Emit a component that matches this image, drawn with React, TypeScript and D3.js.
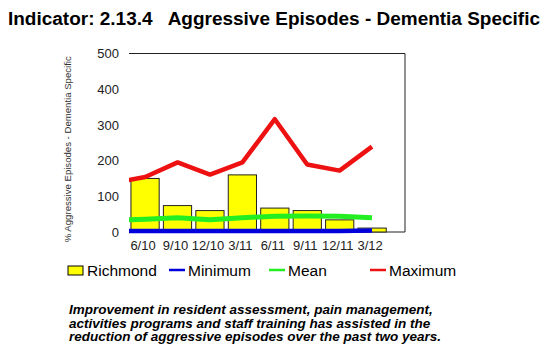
import React from "react";
import * as d3 from "d3";

const categories = ["6/10", "9/10", "12/10", "3/11", "6/11", "9/11", "12/11", "3/12"];
const richmond = [150, 74, 60, 160, 67, 60, 34, 11];
// line series: first value belongs to the preceding quarter (3/10), shown clipped at the plot edge
const lineCats = ["3/10", ...categories];
const minimum = [3, 3, 3, 3, 3, 3, 3, 3, 4];
const mean = [33, 36, 40, 34, 40, 44, 45, 44, 40];
const maximum = [137, 154, 195, 161, 195, 316, 189, 172, 239];
const yTicks = [0, 100, 200, 300, 400, 500];
const title = "Indicator: 2.13.4   Aggressive Episodes - Dementia Specific";
const yTitle = "% Aggressive Episodes - Dementia Specific";
const legendItems = [
  { name: "Richmond", kind: "bar", color: "#ffff00" },
  { name: "Minimum", kind: "line", color: "#0000dd" },
  { name: "Mean", kind: "line", color: "#22ee22" },
  { name: "Maximum", kind: "line", color: "#ee1111" },
];
const note = [
  "Improvement in resident assessment, pain management,",
  "activities programs and staff training has assisted in the",
  "reduction of aggressive episodes over the past two years.",
];

export default function App() {
  const W = 550, H = 358;
  const left = 129, right = 405, top = 53.5, bottom = 232;
  const step = 32.4;
  const x = d3.scaleBand<string>().domain(categories).range([left, left + step * categories.length]).paddingInner(0.13).paddingOuter(0.06);
  const y = d3.scaleLinear().domain([0, 500]).range([bottom, top]);
  const cx = (i: number) => left + step * (i - 1) + step / 2; // index in lineCats
  const line = d3.line<number>().x((_, i) => cx(i)).y((d) => y(d));

  const legendX = [68, 169, 269, 370];

  return (
    <svg width={W} height={H} style={{ position: "absolute", left: 0, top: 0, fontFamily: "Liberation Sans, Arial, sans-serif" }}>
      <rect width={W} height={H} fill="#fff" />
      <text x={8} y={25} fontSize={18} fontWeight="bold" fill="#000" textLength={532} lengthAdjust="spacingAndGlyphs" style={{ whiteSpace: "pre" }}>{title}</text>
      <defs>
        <clipPath id="plotclip">
          <rect x={left} y={0} width={right - left} height={H} />
        </clipPath>
      </defs>
      {/* frame: top, right, bottom */}
      <path d={`M${left},${top}H${right}V${bottom}H${left}`} fill="none" stroke="#222" strokeWidth={1} />
      {yTicks.map((t) => (
        <text key={t} x={119} y={y(t)} dy="0.36em" textAnchor="end" fontSize={13} fill="#222">{t}</text>
      ))}
      <text transform={`translate(71,${(top + 245) / 2}) rotate(-90)`} textAnchor="middle" fontSize={9.6} fill="#333">{yTitle}</text>
      {categories.map((c, i) => (
        <rect key={c} x={x(c)!} y={y(richmond[i])} width={x.bandwidth()} height={bottom - y(richmond[i])} fill="#ffff00" stroke="#222" strokeWidth={1} />
      ))}
      <g clipPath="url(#plotclip)" fill="none" strokeLinejoin="round">
        <path d={line(maximum)!} stroke="#ee1111" strokeWidth={4.5} />
        <path d={line(mean)!} stroke="#22ee22" strokeWidth={5} />
        <path d={line(minimum)!} stroke="#0000dd" strokeWidth={4.5} />
      </g>
      {categories.map((c, i) => (
        <text key={c} x={x(c)! + x.bandwidth() / 2 - 2} y={250} textAnchor="middle" fontSize={13} fill="#222">{c}</text>
      ))}
      {lineCats.length > 0 && legendItems.map((it, i) => (
        <g key={it.name} transform={`translate(${legendX[i]},270)`}>
          {it.kind === "bar" ? (
            <rect x={0} y={-4} width={15} height={9} fill={it.color} stroke="#000" strokeWidth={1} />
          ) : (
            <line x1={0} x2={16} y1={0} y2={0} stroke={it.color} strokeWidth={2.5} />
          )}
          <text x={19} y={0} dy="0.36em" fontSize={15.5} fill="#000">{it.name}</text>
        </g>
      ))}
      {note.map((l, i) => (
        <text key={i} x={69} y={314 + i * 13.7} fontSize={13.5} fontWeight="bold" fontStyle="italic" fill="#000">{l}</text>
      ))}
    </svg>
  );
}
